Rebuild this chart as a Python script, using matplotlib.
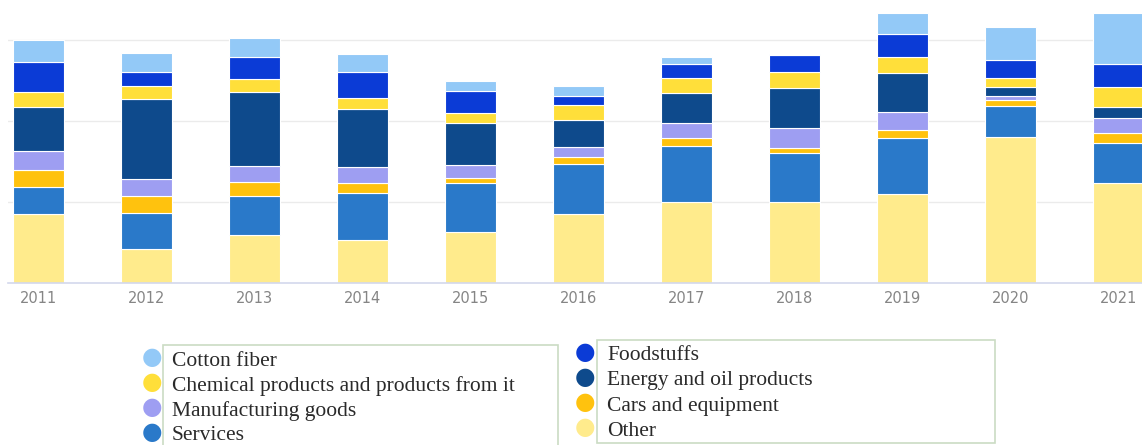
"""Stacked bar chart: structure by category, 2011-2021."""
import matplotlib
matplotlib.use("Agg")
import matplotlib.pyplot as plt
import numpy as np
from matplotlib.patches import Rectangle

years = ["2011", "2012", "2013", "2014", "2015", "2016",
         "2017", "2018", "2019", "2020", "2021"]

# stacked bottom -> top
other         = [852, 420, 593, 531, 630, 852, 1000, 1000, 1099, 1803, 1235]
services      = [333, 444, 482, 580, 605, 617, 692, 605, 692, 383, 494]
cars          = [210, 210, 173, 123, 62, 86, 99, 62, 99, 74, 123]
manufacturing = [235, 210, 198, 198, 160, 123, 185, 247, 222, 49, 185]
energy        = [543, 988, 914, 716, 519, 333, 370, 494, 482, 111, 136]
chemical      = [185, 160, 160, 136, 123, 185, 185, 198, 198, 111, 247]
foodstuffs    = [370, 173, 272, 321, 272, 111, 173, 210, 284, 222, 284]
cotton        = [272, 235, 235, 222, 123, 123, 86, 12, 259, 407, 630]

C_OTHER = "#FFEB8C"
C_SERV  = "#2A79C9"
C_CARS  = "#FFC20E"
C_MANUF = "#9E9EF2"
C_ENERGY = "#0E4A8C"
C_CHEM  = "#FFDF3A"
C_FOOD  = "#0B3BD6"
C_COTTON = "#93C9F7"

stack = [
    (other, C_OTHER),
    (services, C_SERV),
    (cars, C_CARS),
    (manufacturing, C_MANUF),
    (energy, C_ENERGY),
    (chemical, C_CHEM),
    (foodstuffs, C_FOOD),
    (cotton, C_COTTON),
]

left_legend = [("Cotton fiber", C_COTTON),
               ("Chemical products and products from it", C_CHEM),
               ("Manufacturing goods", C_MANUF),
               ("Services", C_SERV)]
right_legend = [("Foodstuffs", C_FOOD),
                ("Energy and oil products", C_ENERGY),
                ("Cars and equipment", C_CARS),
                ("Other", C_OTHER)]

W, H = 1142, 445
fig = plt.figure(figsize=(W / 100, H / 100), dpi=100)
ax = fig.add_axes([8 / W, 1 - 283 / H, 1 - 8 / W, 283 / H])

x = np.arange(len(years))
bottom = np.zeros(len(years))
for vals, col in stack:
    ax.bar(x, vals, width=0.48, bottom=bottom, color=col,
           edgecolor="white", linewidth=0.8, zorder=2)
    bottom += np.array(vals)

ax.set_xlim((8 - 38.5) / 108, (W - 38.5) / 108)
ax.set_ylim(0, 283 * 1000 / 81)
ax.set_yticks([1000, 2000, 3000])
ax.yaxis.grid(True, color="#EBEBEB", linewidth=1, zorder=0)
ax.tick_params(axis="y", left=False, labelleft=False)
ax.set_xticks(x)
ax.set_xticklabels(years, family=["Liberation Sans Narrow", "DejaVu Sans"],
                   fontsize=10.5, color="#858585")
ax.tick_params(axis="x", length=0, pad=6)
for s in ("top", "left", "right"):
    ax.spines[s].set_visible(False)
ax.spines["bottom"].set_color("#D3D8EC")
ax.spines["bottom"].set_linewidth(1.2)


def draw_legend(items, box, marker_x, text_x, rows):
    bx0, by0, bx1, by1 = box
    fig.patches.append(Rectangle((bx0 / W, 1 - by1 / H), (bx1 - bx0) / W,
                                 (by1 - by0) / H, transform=fig.transFigure,
                                 fill=False, edgecolor="#CBDCC4", linewidth=1.2))
    for (label, col), y in zip(items, rows):
        fig.text(marker_x / W, 1 - (y - 4) / H, "\u25CF", color=col,
                 fontsize=17, ha="center", va="center", family="DejaVu Sans")
        fig.text(text_x / W, 1 - y / H, label, color="#2A2A2A",
                 fontsize=15.5, ha="left", va="center",
                 family=["Liberation Serif", "DejaVu Serif"])


draw_legend(left_legend, (163, 345, 558, 450), 152, 172, [361, 386, 411, 436])
draw_legend(right_legend, (597, 340, 995, 443), 585, 607, [356, 381, 406, 431])

fig.savefig("out.png", dpi=100, facecolor="white")
